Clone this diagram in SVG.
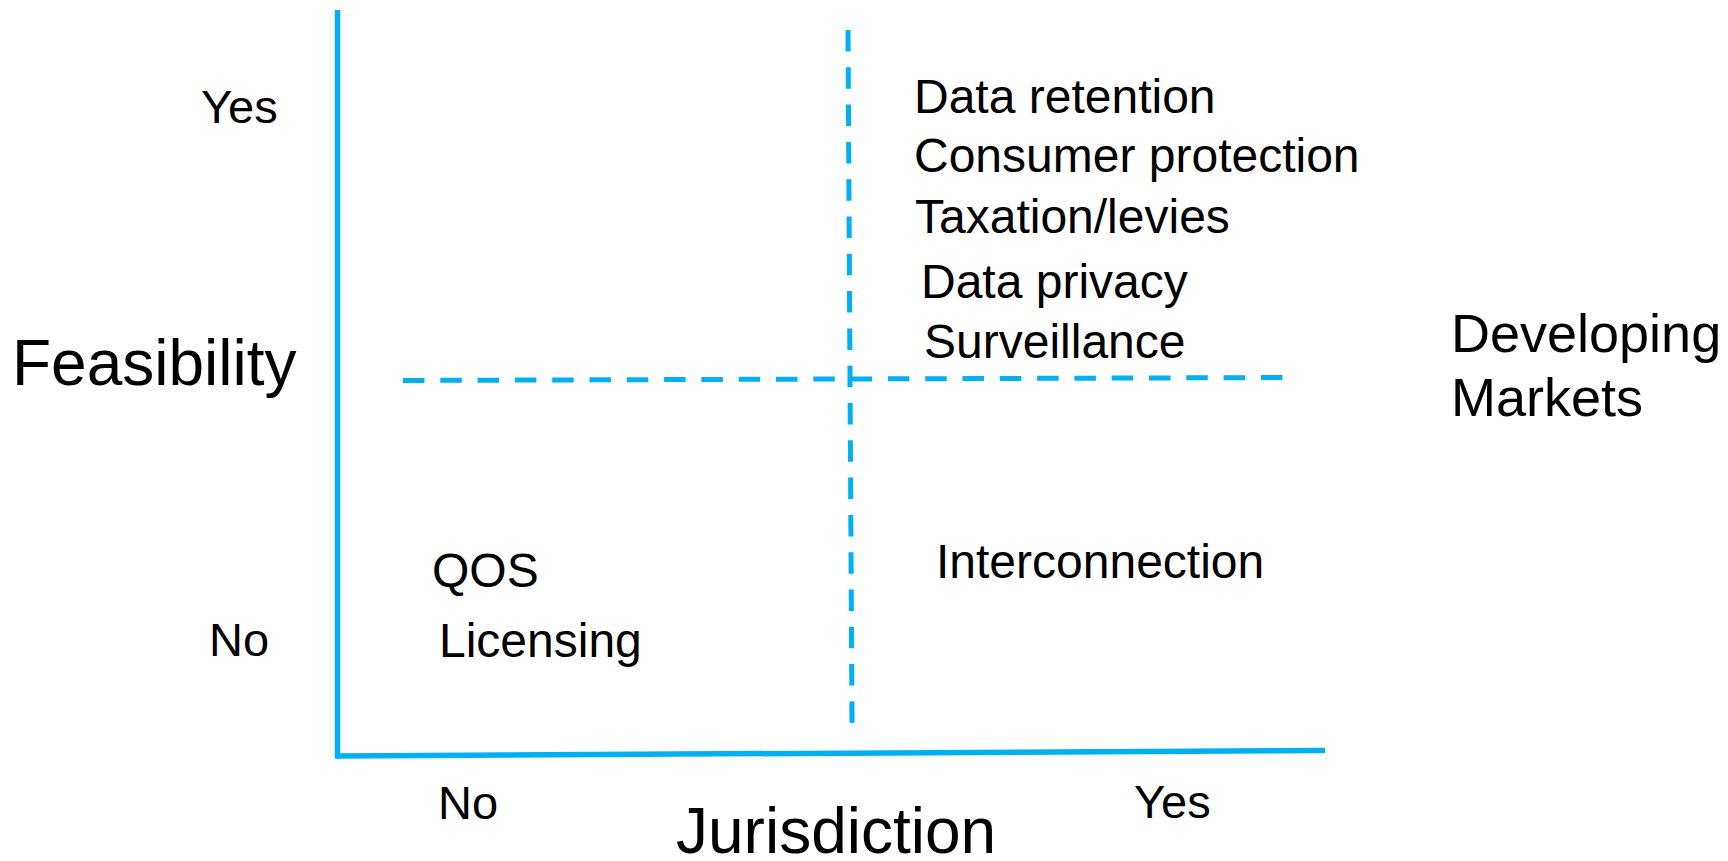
<svg xmlns="http://www.w3.org/2000/svg" width="1728" height="861" viewBox="0 0 1728 861">
  <style>
    text { font-family: "Liberation Sans", Arial, sans-serif; fill: #000; }
    .item { font-size: 48px; }
    .tick { font-size: 47px; }
    .axis-title { font-size: 64px; }
    .market { font-size: 54px; }
    .axis { stroke: #00B0F0; stroke-width: 5.5; fill: none; }
    .divider { stroke: #00B0F0; stroke-width: 5; fill: none; stroke-dasharray: 21.5 15.8; }
  </style>
  <rect width="1728" height="861" fill="#ffffff"/>
  <g id="connectors">
    <line class="axis" x1="337.5" y1="10" x2="337.5" y2="758.5"/>
    <line class="axis" x1="336" y1="756" x2="1325" y2="750.5"/>
    <line class="divider" x1="403" y1="380.5" x2="1283" y2="377.5"/>
    <line class="divider" x1="848" y1="30" x2="852" y2="723"/>
  </g>
  <g id="axis-y-title"><text class="axis-title" x="12" y="385">Feasibility</text></g>
  <g id="axis-x-title"><text class="axis-title" x="676" y="853">Jurisdiction</text></g>
  <g id="y-yes"><text class="tick" x="201" y="123">Yes</text></g>
  <g id="y-no"><text class="tick" x="209" y="656">No</text></g>
  <g id="x-no"><text class="tick" x="438" y="819">No</text></g>
  <g id="x-yes"><text class="tick" x="1134" y="818">Yes</text></g>
  <g id="quadrant-top-right">
    <text class="item" x="914" y="113">Data retention</text>
    <text class="item" x="914" y="171.5">Consumer protection</text>
    <text class="item" x="915" y="232.5">Taxation/levies</text>
    <text class="item" x="921" y="297.5">Data privacy</text>
    <text class="item" x="924" y="358">Surveillance</text>
  </g>
  <g id="quadrant-bottom-left">
    <text class="item" x="432" y="587">QOS</text>
    <text class="item" x="439" y="656.5">Licensing</text>
  </g>
  <g id="quadrant-bottom-right">
    <text class="item" x="936" y="578">Interconnection</text>
  </g>
  <g id="developing-markets">
    <text class="market" x="1451" y="352">Developing</text>
    <text class="market" x="1451" y="416">Markets</text>
  </g>
</svg>
